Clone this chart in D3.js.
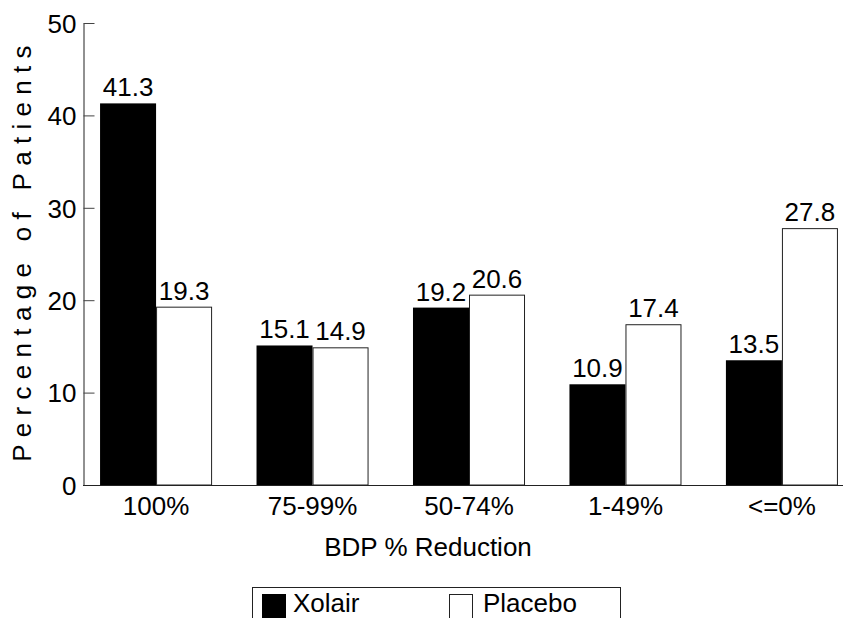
<!DOCTYPE html>
<html>
<head>
<meta charset="utf-8">
<script src="https://cdn.jsdelivr.net/npm/d3@7"></script>
<style>
  body { margin: 0; background: #fff; }
  svg { display: block; }
  text { font-family: "Liberation Sans", Arial, sans-serif; fill: #000; }
</style>
</head>
<body>
<svg id="chart" width="843" height="618"></svg>
<script>
// BDP reduction categories and the share of patients in each arm
const categories = ["100%", "75-99%", "50-74%", "1-49%", "<=0%"];
const seriesNames = ["Xolair", "Placebo"];
const xolair = [41.3, 15.1, 19.2, 10.9, 13.5];
const placebo = [19.3, 14.9, 20.6, 17.4, 27.8];
const yTicks = [0, 10, 20, 30, 40, 50];
const yTitle = "Percentage of Patients";
const xTitle = "BDP % Reduction";

const seriesValues = { Xolair: xolair, Placebo: placebo };
const seriesFill = { Xolair: "#000", Placebo: "#fff" };

const svg = d3.select("#chart");
const fontSize = 26;

const y = d3.scaleLinear().domain([0, 50]).range([485, 23]);
const x = d3.scaleBand()
  .domain(categories)
  .range([83, 855])
  .paddingInner(0.284)
  .paddingOuter(0.109);
const xs = d3.scaleBand().domain(seriesNames).range([0, x.bandwidth()]);

// bars
const rows = categories.map((c, i) => seriesNames.map(s => ({ cat: c, series: s, value: seriesValues[s][i] })));
const groups = svg.append("g").selectAll("g")
  .data(rows).join("g")
  .attr("transform", d => `translate(${x(d[0].cat)},0)`);

groups.selectAll("rect")
  .data(d => d).join("rect")
  .attr("x", d => xs(d.series) + (d.series === "Placebo" ? 0.5 : 0))
  .attr("y", d => y(d.value) + (d.series === "Placebo" ? 0.5 : 0))
  .attr("width", d => xs.bandwidth() - (d.series === "Placebo" ? 1 : 0))
  .attr("height", d => y(0) - y(d.value) - (d.series === "Placebo" ? 0.5 : 0))
  .attr("fill", d => seriesFill[d.series])
  .attr("stroke", d => d.series === "Placebo" ? "#222" : "none")
  .attr("stroke-width", 1);

// value labels
groups.selectAll("text.val")
  .data(d => d).join("text")
  .attr("class", "val")
  .attr("x", d => xs(d.series) + xs.bandwidth() / 2)
  .attr("y", d => y(d.value) - 7)
  .attr("text-anchor", "middle")
  .attr("font-size", fontSize)
  .text(d => d.value.toFixed(1));

// y axis
const yAxis = svg.append("g")
  .attr("transform", "translate(83.5,0)")
  .call(d3.axisLeft(y).tickValues(yTicks).tickSizeInner(-11).tickSizeOuter(0).tickPadding(7).tickFormat(d3.format("d")));
yAxis.select(".domain").attr("stroke", "#222");
yAxis.selectAll(".tick line").attr("stroke", "#444");
yAxis.selectAll(".tick text")
  .attr("font-size", fontSize)
  .attr("font-family", "Liberation Sans, Arial, sans-serif")
  .attr("dy", "0.36em");

// x axis
const xAxis = svg.append("g")
  .attr("transform", "translate(0,485.5)")
  .call(d3.axisBottom(x).tickSize(0).tickPadding(11.5));
xAxis.select(".domain").attr("stroke", "#222").attr("d", "M83,0H855");
xAxis.selectAll(".tick text")
  .attr("font-size", fontSize)
  .attr("font-family", "Liberation Sans, Arial, sans-serif");

// axis titles
svg.append("text")
  .attr("transform", "translate(31,250) rotate(-90)")
  .attr("text-anchor", "middle")
  .attr("font-size", fontSize)
  .attr("letter-spacing", 7.3)
  .text(yTitle);

svg.append("text")
  .attr("x", 428)
  .attr("y", 556)
  .attr("text-anchor", "middle")
  .attr("font-size", fontSize)
  .text(xTitle);

// legend
const legend = svg.append("g");
legend.append("rect")
  .attr("x", 252.5).attr("y", 587.5)
  .attr("width", 368).attr("height", 60)
  .attr("fill", "none").attr("stroke", "#222");
const legendX = { Xolair: 262, Placebo: 449 };
const items = legend.selectAll("g.item")
  .data(seriesNames).join("g")
  .attr("class", "item")
  .attr("transform", d => `translate(${legendX[d]},594)`);
items.append("rect")
  .attr("x", d => d === "Placebo" ? 0.5 : 0)
  .attr("y", d => d === "Placebo" ? 0.5 : 0)
  .attr("width", d => d === "Placebo" ? 23 : 24)
  .attr("height", 24)
  .attr("fill", d => seriesFill[d])
  .attr("stroke", d => d === "Placebo" ? "#222" : "none");
items.append("text")
  .attr("x", d => d === "Placebo" ? 34 : 31)
  .attr("y", 18)
  .attr("font-size", fontSize)
  .text(d => d);
</script>
</body>
</html>
